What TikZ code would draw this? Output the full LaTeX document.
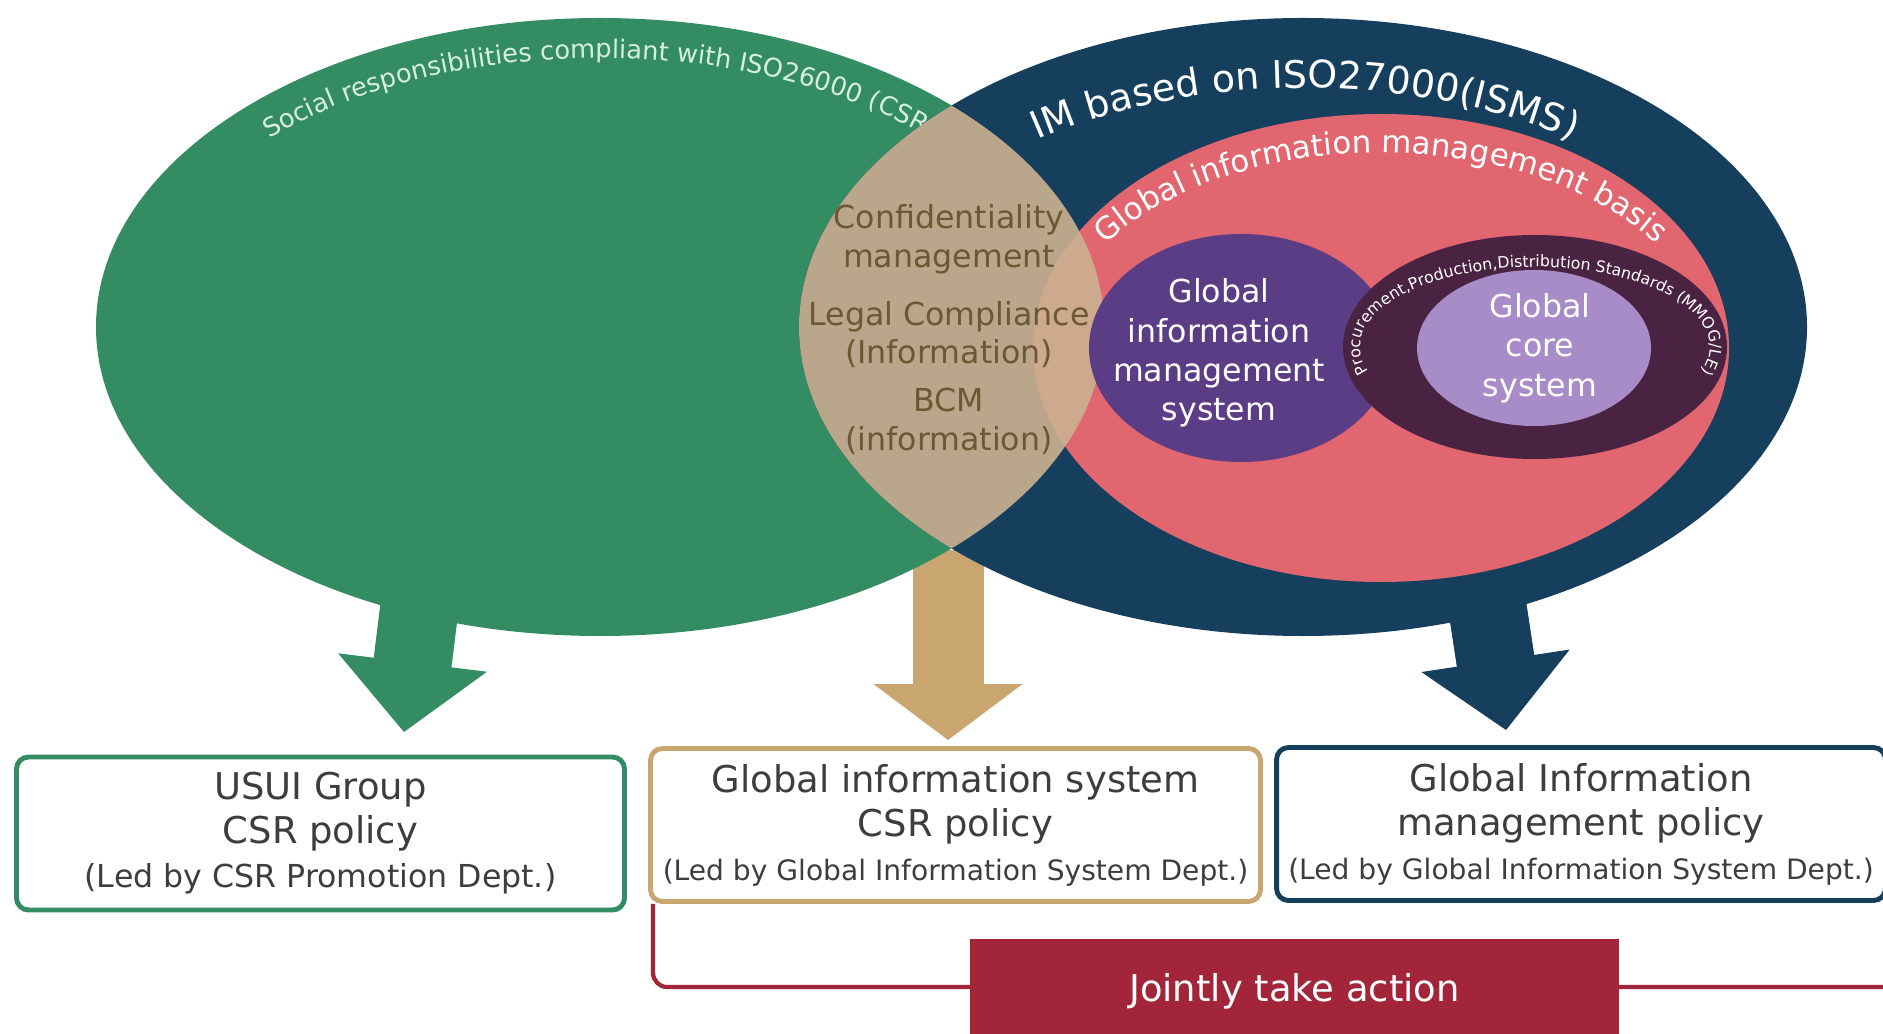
\documentclass[tikz,border=0pt]{standalone}
\usepackage{fontspec}
\setmainfont{DejaVu Sans}
\usetikzlibrary{arrows.meta,decorations.text}

\definecolor{csrgreen}{HTML}{348C62}
\definecolor{csrmint}{HTML}{D6EFDD}
\definecolor{ismsnavy}{HTML}{163F5E}
\definecolor{basispink}{HTML}{E1666F}
\definecolor{imspurple}{HTML}{5B3D85}
\definecolor{stdplum}{HTML}{4B2342}
\definecolor{corelilac}{HTML}{A78CC7}
\definecolor{lenstan}{HTML}{BAA68A}
\definecolor{lenspeach}{HTML}{CDA98E}
\definecolor{lenstext}{HTML}{6C5833}
\definecolor{gisgold}{HTML}{C9A66F}
\definecolor{jointred}{HTML}{A3253A}
\definecolor{boxtext}{HTML}{3D3D3D}

\begin{document}
\begin{tikzpicture}[
    policybox/.style={draw, line width=1.4pt, rounded corners=0.12cm, align=center, text=boxtext,
        minimum height=1.53cm, font=\fontsize{10.5}{12.5}\selectfont},
    blockarrow/.style={line width=0.78cm, -{Triangle[width=1.5cm, length=0.7cm, line width=0pt]},
        postaction={draw, -, shorten >=0.45cm}},
    lenslabel/.style={text=lenstext, align=center, font=\fontsize{9}{11}\selectfont},
    ringlabel/.style={text=white, align=center, font=\fontsize{9}{11.2}\selectfont}
]

    \useasboundingbox (0,0) rectangle (18.83,10.33);

    % arrows first, the ellipses cover their tails
    \coordinate (csrfrom) at (4.26,4.79);   \coordinate (csrto) at (4.04,3.01);
    \coordinate (gisfrom) at (9.48,4.83);   \coordinate (gisto) at (9.48,2.93);
    \coordinate (imsfrom) at (14.79,4.81);  \coordinate (imsto) at (15.06,3.03);

    \draw[blockarrow, csrgreen] (csrfrom) -- (csrto);
    \draw[blockarrow, gisgold, line width=0.71cm, -{Triangle[width=1.49cm, length=0.56cm, line width=0pt]}] (gisfrom) -- (gisto);
    \draw[blockarrow, ismsnavy] (imsfrom) -- (imsto);

    % the two big circles
    \fill[csrgreen] (6.00,7.06) ellipse [x radius=5.04, y radius=3.09];
    \fill[ismsnavy] (13.03,7.06) ellipse [x radius=5.04, y radius=3.09];

    \path[decorate, decoration={text along path, text color=csrmint,
        text={|\fontsize{7.3}{8}\selectfont|Social responsibilities compliant with ISO26000 (CSR)}}]
        ({6.00+4.64*cos(135.5)},{7.06+2.69*sin(135.5)}) arc[start angle=135.5, end angle=0, x radius=4.64, y radius=2.69];

    \fill[basispink] (13.81,6.85) ellipse [x radius=3.48, y radius=2.34];

    % overlap of the two circles
    \begin{scope}
        \clip (6.00,7.06) ellipse [x radius=5.04, y radius=3.09];
        \fill[lenstan] (13.03,7.06) ellipse [x radius=5.04, y radius=3.09];
        \fill[lenspeach] (13.81,6.85) ellipse [x radius=3.48, y radius=2.34];
    \end{scope}

    \fill[imspurple] (12.41,6.85) ellipse [x radius=1.52, y radius=1.14];
    \fill[stdplum] (15.35,6.86) ellipse [x radius=1.92, y radius=1.12];
    \fill[corelilac] (15.34,6.85) ellipse [x radius=1.17, y radius=0.78];

    % ring titles
    \path[decorate, decoration={text along path, text align=center, text color=white,
        text={|\fontsize{10.8}{13}\selectfont|IM based on ISO27000(ISMS)}}]
        ({13.05+4.30*cos(160)},{7.06+2.39*sin(160)}) arc[start angle=160, end angle=20, x radius=4.30, y radius=2.39];
    \path[decorate, decoration={text along path, text align=center, text color=white,
        text={|\fontsize{8.8}{10}\selectfont|Global information management basis}}]
        ({13.81+3.25*cos(170)},{6.85+1.95*sin(170)}) arc[start angle=170, end angle=10, x radius=3.25, y radius=1.95];
    \path[decorate, decoration={text along path, text align=center, text color=white,
        text={|\fontsize{4.5}{5}\selectfont|Procurement,Production,Distribution Standards (MMOG/LE)}}]
        ({15.35+1.75*cos(240)},{6.86+0.80*sin(240)}) arc[start angle=240, end angle=-60, x radius=1.75, y radius=0.80];

    \node[lenslabel] (confid) at (9.49,7.94)  {Confidentiality\\management};
    \node[lenslabel] (legal)  at (9.49,6.985) {Legal Compliance\\(Information)};
    \node[lenslabel] (bcm)    at (9.49,6.115) {BCM\\(information)};

    \node[ringlabel] (gims)  at (12.19,6.80) {Global\\information\\management\\system};
    \node[ringlabel] (gcore) at (15.40,6.85) {Global\\core\\system};

    % policy boxes
    \node[policybox, draw=csrgreen, minimum width=6.08cm] (csrbox) at (3.205,1.995)
        {USUI Group\\CSR policy\\{\fontsize{9}{10}\selectfont (Led by CSR Promotion Dept.)}};
    \node[policybox, draw=gisgold, minimum width=6.10cm] (gisbox) at (9.555,2.08)
        {Global information system\\CSR policy\\{\fontsize{8}{10}\selectfont (Led by Global Information System Dept.)}};
    \node[policybox, draw=ismsnavy, minimum width=5.91cm] (imsbox) at (15.81,2.09)
        {Global Information\\management policy\\{\fontsize{8}{10}\selectfont (Led by Global Information System Dept.)}};

    \coordinate (jointend) at (18.83,0.46);
    \draw[jointred, line width=1.2pt, rounded corners=4pt] ([xshift=0.05cm]gisbox.south west) |- (jointend);

    \node[fill=jointred, text=white, minimum width=6.49cm, minimum height=1.04cm, inner sep=0pt,
        font=\fontsize{10.5}{12.5}\selectfont] (joint) at (12.945,0.42) {Jointly take action};

\end{tikzpicture}
\end{document}
